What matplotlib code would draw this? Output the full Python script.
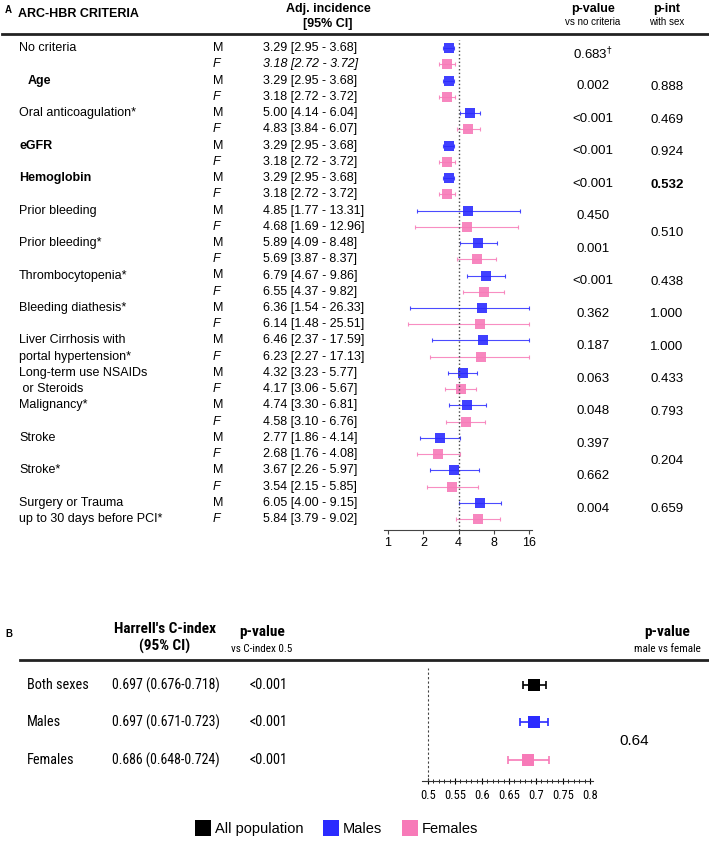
import numpy as np
import matplotlib
matplotlib.use("Agg")
import matplotlib.pyplot as plt
from matplotlib.transforms import blended_transform_factory
from matplotlib.lines import Line2D

plt.rcParams['font.family'] = ['Liberation Sans', 'DejaVu Sans']
NARROW = ['Roboto Condensed', 'PT Sans Narrow', 'Liberation Sans', 'DejaVu Sans']

# ---------------- panel A data ----------------
criteria = ["No criteria", "Age", "Oral anticoagulation*", "eGFR", "Hemoglobin",
            "Prior bleeding", "Prior bleeding*", "Thrombocytopenia*",
            "Bleeding diathesis*", "Liver Cirrhosis with\nportal hypertension*",
            "Long-term use NSAIDs\n or Steroids", "Malignancy*", "Stroke",
            "Stroke*", "Surgery or Trauma\nup to 30 days before PCI*"]
bold_criteria = ["Age", "eGFR", "Hemoglobin"]

m_est = [3.29, 3.29, 5.00, 3.29, 3.29, 4.85, 5.89, 6.79, 6.36, 6.46, 4.32, 4.74, 2.77, 3.67, 6.05]
m_lo = [2.95, 2.95, 4.14, 2.95, 2.95, 1.77, 4.09, 4.67, 1.54, 2.37, 3.23, 3.30, 1.86, 2.26, 4.00]
m_hi = [3.68, 3.68, 6.04, 3.68, 3.68, 13.31, 8.48, 9.86, 26.33, 17.59, 5.77, 6.81, 4.14, 5.97, 9.15]

f_est = [3.18, 3.18, 4.83, 3.18, 3.18, 4.68, 5.69, 6.55, 6.14, 6.23, 4.17, 4.58, 2.68, 3.54, 5.84]
f_lo = [2.72, 2.72, 3.84, 2.72, 2.72, 1.69, 3.87, 4.37, 1.48, 2.27, 3.06, 3.10, 1.76, 2.15, 3.79]
f_hi = [3.72, 3.72, 6.07, 3.72, 3.72, 12.96, 8.37, 9.82, 25.51, 17.13, 5.67, 6.76, 4.08, 5.85, 9.02]

p_values = ["0.683$^{\\dagger}$", "0.002", "<0.001", "<0.001", "<0.001", "0.450", "0.001",
            "<0.001", "0.362", "0.187", "0.063", "0.048", "0.397", "0.662", "0.004"]
# p-int: (text, criteria index where it starts, number of criteria spanned, bold)
p_int = [("0.888", 1, 1, False), ("0.469", 2, 1, False), ("0.924", 3, 1, False),
         ("0.532", 4, 1, True), ("0.510", 5, 2, False), ("0.438", 7, 1, False),
         ("1.000", 8, 1, False), ("1.000", 9, 1, False), ("0.433", 10, 1, False),
         ("0.793", 11, 1, False), ("0.204", 12, 2, False), ("0.659", 14, 1, False)]
xticks_a = [1, 2, 4, 8, 16]

# ---------------- panel B data ----------------
groups = ["Both sexes", "Males", "Females"]
c_idx = [0.697, 0.697, 0.686]
c_lo = [0.676, 0.671, 0.648]
c_hi = [0.718, 0.723, 0.724]
p_b = ["<0.001", "<0.001", "<0.001"]
p_sex = "0.64"
xticks_b = [0.5, 0.55, 0.6, 0.65, 0.7, 0.75, 0.8]

BLUE = "#2b2bff"
PINK = "#f77ab8"
BLACK = "#000000"

W, H = 709, 842
fig = plt.figure(figsize=(W / 100, H / 100), dpi=100)


def fx(px):
    return px / W


def fy(py):
    return 1 - py / H


# ================= PANEL A =================
n = len(criteria)
rows = np.arange(2 * n)
# axes for the forest plot: pixel x 384..532, y 40..530
axA = fig.add_axes([fx(384), fy(530), fx(532) - fx(384), (530 - 40) / H])
axA.set_xscale("log", base=2)
axA.set_xlim(0.924, 16.9)
row_px = (519 - 48) / (2 * n - 1)
axA.set_ylim(-0.5 + (530 - 40) / row_px, -0.5)

m_rows = rows[0::2]
f_rows = rows[1::2]
for r, est, lo, hi, col in [(m_rows, m_est, m_lo, m_hi, BLUE), (f_rows, f_est, f_lo, f_hi, PINK)]:
    est = np.array(est)
    lo = np.array(lo)
    hi = np.clip(np.array(hi), None, 16)
    axA.errorbar(est, r, xerr=[est - lo, hi - est], fmt="none", ecolor=col,
                 elinewidth=0.8, capsize=1.2, capthick=0.8, alpha=0.85)
    axA.plot(est, r, "s", color=col, markersize=7.8, markeredgewidth=0, alpha=0.9)

axA.axvline(4, color="#444444", linestyle=":", linewidth=1)
for s in ["top", "right", "left"]:
    axA.spines[s].set_visible(False)
axA.spines["bottom"].set_color("#444444")
axA.set_yticks([])
axA.set_xticks(xticks_a)
axA.set_xticklabels([str(t) for t in xticks_a])
axA.minorticks_off()
axA.tick_params(axis="x", labelsize=9, length=3, color="#444444", pad=2)

trA = blended_transform_factory(fig.transFigure, axA.transData)
FS = 9

# headers
fig.text(fx(5), fy(10), "A", fontsize=7, fontweight="bold", va="center")
fig.text(fx(18), fy(14), "ARC-HBR CRITERIA", fontsize=9, fontweight="bold", va="center")
fig.text(fx(328), fy(9), "Adj. incidence", fontsize=9, fontweight="bold", va="center", ha="center")
fig.text(fx(328), fy(24), "[95% CI]", fontsize=9, fontweight="bold", va="center", ha="center")
fig.text(fx(593), fy(9), "p-value", fontsize=9, fontweight="bold", va="center", ha="center")
fig.text(fx(593), fy(22), "vs no criteria", fontsize=7, va="center", ha="center")
fig.text(fx(667), fy(9), "p-int", fontsize=9, fontweight="bold", va="center", ha="center")
fig.text(fx(667), fy(22), "with sex", fontsize=7, va="center", ha="center")
fig.add_artist(Line2D([fx(2), fx(709)], [fy(34), fy(34)], color="#222222", linewidth=2))

for i, name in enumerate(criteria):
    lines = name.split("\n")
    x0 = 28 if name == "Age" else 19
    for j, ln in enumerate(lines):
        axA.text(fx(x0), 2 * i + j, ln, transform=trA, fontsize=FS, va="center",
                 fontweight="bold" if name in bold_criteria else "normal")
    axA.text(fx(213), 2 * i, "M", transform=trA, fontsize=FS, va="center")
    axA.text(fx(213), 2 * i + 1, "F", transform=trA, fontsize=FS, va="center", style="italic")
    axA.text(fx(263), 2 * i, "%.2f [%.2f - %.2f]" % (m_est[i], m_lo[i], m_hi[i]),
             transform=trA, fontsize=FS, va="center")
    axA.text(fx(263), 2 * i + 1, "%.2f [%.2f - %.2f]" % (f_est[i], f_lo[i], f_hi[i]),
             transform=trA, fontsize=FS, va="center", style="italic" if i == 0 else "normal")
    axA.text(fx(593), 2 * i + 0.35, p_values[i], transform=trA, fontsize=FS + 0.5,
             va="center", ha="center")

for txt, start, span, bold in p_int:
    yc = 2 * start + (2 * span - 1) / 2 - 0.1
    axA.text(fx(667), yc, txt, transform=trA, fontsize=FS + 0.5, va="center", ha="center",
             fontweight="bold" if bold else "normal")

# ================= PANEL B =================
axB = fig.add_axes([fx(422), fy(781), fx(593) - fx(422), (781 - 668) / H])
axB.set_xlim(0.489, 0.8056)
rowb_px = 37.5
axB.set_ylim(-0.45 + (781 - 668) / rowb_px, -0.45)
colors_b = [BLACK, BLUE, PINK]
for i in range(len(groups)):
    axB.errorbar(c_idx[i], i, xerr=[[c_idx[i] - c_lo[i]], [c_hi[i] - c_idx[i]]], fmt="none",
                 ecolor=colors_b[i], elinewidth=1.2, capsize=3, capthick=1.2)
    axB.plot(c_idx[i], i, "s", color=colors_b[i], markersize=8.5, markeredgewidth=0)
axB.axvline(0.5, color="#444444", linestyle=(0, (2, 2)), linewidth=0.8)
for s in ["top", "right", "left"]:
    axB.spines[s].set_visible(False)
axB.spines["bottom"].set_color("#333333")
axB.set_yticks([])
axB.set_xticks(xticks_b)
axB.set_xticklabels(["0.5", "0.55", "0.6", "0.65", "0.7", "0.75", "0.8"], family=NARROW)
axB.set_xticks(np.arange(0.5, 0.8001, 0.01), minor=True)
axB.tick_params(axis="x", which="major", direction="inout", length=5, labelsize=9, pad=3)
axB.tick_params(axis="x", which="minor", direction="inout", length=3)

trB = blended_transform_factory(fig.transFigure, axB.transData)
fig.text(fx(5), fy(634), "B", fontsize=7, fontweight="bold", va="center")
fig.text(fx(165), fy(629), "Harrell's C-index", fontsize=11, fontweight="bold",
         va="center", ha="center", family=NARROW)
fig.text(fx(165), fy(646), "(95% CI)", fontsize=11, fontweight="bold",
         va="center", ha="center", family=NARROW)
fig.text(fx(262), fy(632), "p-value", fontsize=11, fontweight="bold",
         va="center", ha="center", family=NARROW)
fig.text(fx(262), fy(649), "vs C-index 0.5", fontsize=8, va="center", ha="center", family=NARROW)
fig.text(fx(667), fy(632), "p-value", fontsize=11, fontweight="bold",
         va="center", ha="center", family=NARROW)
fig.text(fx(667), fy(649), "male vs female", fontsize=8, va="center", ha="center", family=NARROW)
fig.add_artist(Line2D([fx(20), fx(709)], [fy(660), fy(660)], color="#222222", linewidth=2))

for i, g in enumerate(groups):
    axB.text(fx(27), i, g, transform=trB, fontsize=10.3, va="center", family=NARROW)
    axB.text(fx(112), i, "%.3f (%.3f-%.3f)" % (c_idx[i], c_lo[i], c_hi[i]), transform=trB,
             fontsize=10, va="center", family=NARROW)
    axB.text(fx(268), i, p_b[i], transform=trB, fontsize=10.3, va="center", ha="center",
             family=NARROW)
axB.text(fx(634), 1.5, p_sex, transform=trB, fontsize=11, va="center", ha="center")

# legend
handles = [Line2D([], [], marker="s", color=c, linestyle="none", markersize=11,
                  markeredgewidth=0) for c in colors_b]
fig.legend(handles, ["All population", "Males", "Females"], loc="center",
           bbox_to_anchor=(fx(337), fy(829)), ncol=3, frameon=False, fontsize=10.5,
           handletextpad=0.3, columnspacing=1.4, handlelength=1.0)

fig.savefig("out.png", dpi=100)
